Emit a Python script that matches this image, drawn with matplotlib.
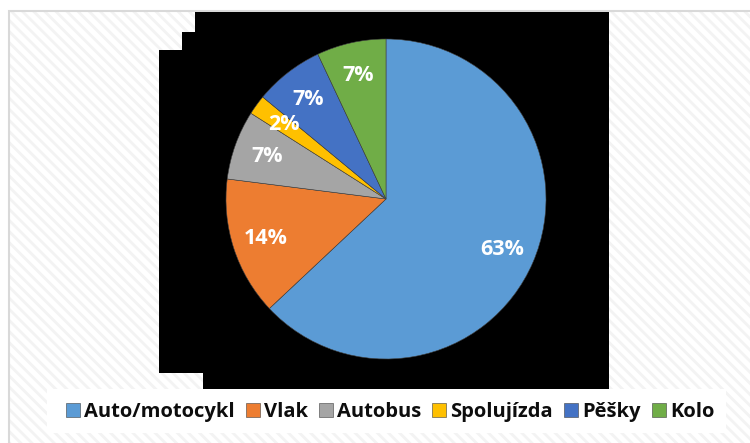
import matplotlib.pyplot as plt
from matplotlib.patches import Rectangle, Polygon

# data
categories = ['Auto/motocykl', 'Vlak', 'Autobus', 'Spolujízda', 'Pěšky', 'Kolo']
shares = [63, 14, 7, 2, 7, 7]
colors = ['#5b9bd5', '#ed7d31', '#a5a5a5', '#ffc000', '#4472c4', '#70ad47']

W, H = 750, 443
plt.rcParams['font.family'] = ['Open Sans', 'DejaVu Sans']
plt.rcParams['hatch.linewidth'] = 2.0

fig = plt.figure(figsize=(W / 100, H / 100), dpi=100)
fig.patch.set_facecolor('white')


def px(x, y):
    return (x / W, 1 - y / H)


# chart area with light diagonal stripes
bx, by = px(9, 11)
fig.add_artist(Rectangle((bx, -0.01), 1.02 - bx, by + 0.01, transform=fig.transFigure,
                         facecolor='white', edgecolor='#f3f3f3', linewidth=0,
                         hatch='\\\\\\', zorder=-4))
fig.add_artist(Rectangle((bx, -0.01), 1.02 - bx, by + 0.01, transform=fig.transFigure,
                         facecolor='none', edgecolor='#d9d9d9', linewidth=1.5,
                         zorder=-3))

# black backdrop behind the pie
shape = [(195, 12), (609, 12), (609, 389), (203, 389), (203, 373),
         (159, 373), (159, 50), (182, 50), (182, 32), (195, 32)]
fig.add_artist(Polygon([px(x, y) for x, y in shape], closed=True,
                       transform=fig.transFigure, facecolor='black',
                       edgecolor='none', zorder=-2))

# white box for the legend
lx0, ly0 = px(47, 433)
lx1, ly1 = px(726, 389)
fig.add_artist(Rectangle((lx0, ly0), lx1 - lx0, ly1 - ly0,
                         transform=fig.transFigure, facecolor='white',
                         edgecolor='none', zorder=-1))

# pie: center (386,199), radius 160 px
ax = fig.add_axes([226 / W, (H - 359) / H, 320 / W, 320 / H])
ax.patch.set_alpha(0)

wedges, texts, autotexts = ax.pie(
    shares, colors=colors, startangle=90, counterclock=False, radius=1,
    autopct='%1.0f%%', pctdistance=0.79,
    wedgeprops=dict(edgecolor='#404040', linewidth=0.4),
    textprops=dict(color='white', fontsize=15.5, fontweight='bold'))
ax.set_xlim(-1, 1)
ax.set_ylim(-1, 1)
ax.set_aspect('equal')
ax.axis('off')

fig.legend(wedges, categories, loc='center', bbox_to_anchor=(390 / W, 1 - 412 / H),
           ncol=6, frameon=False, handlelength=0.7,
           handleheight=0.7, handletextpad=0.2, columnspacing=0.55,
           labelcolor='#0d0d0d', prop=dict(weight='bold', size=14.5))

fig.savefig('out.png', dpi=100)
